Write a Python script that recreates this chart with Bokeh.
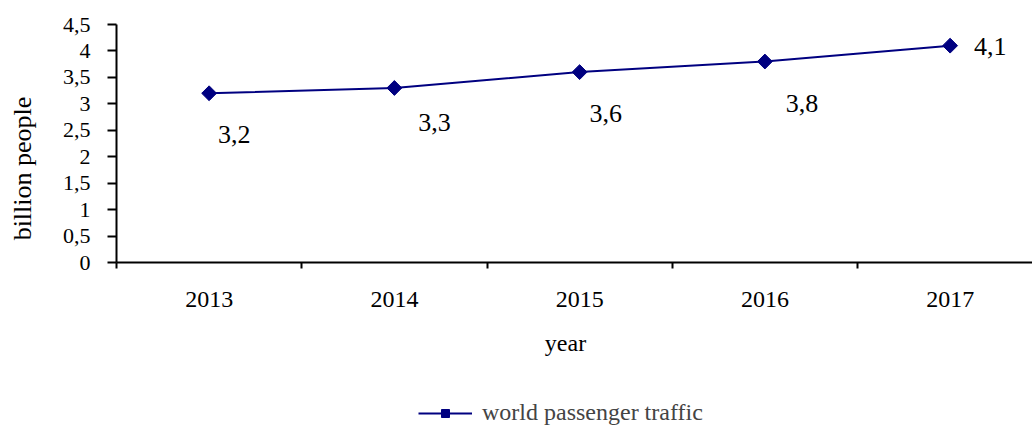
import math
from bokeh.plotting import figure
from bokeh.models import (Range1d, FixedTicker, Legend, LegendItem, Label,
                          ColumnDataSource)
from bokeh.embed import file_html
from bokeh.resources import INLINE

# ---- data ----
years = [2013, 2014, 2015, 2016, 2017]
passengers = [3.2, 3.3, 3.6, 3.8, 4.1]
value_labels = ["3,2", "3,3", "3,6", "3,8", "4,1"]
y_ticks = [0, 0.5, 1, 1.5, 2, 2.5, 3, 3.5, 4, 4.5]
y_tick_labels = ["0", "0,5", "1", "1,5", "2", "2,5", "3", "3,5", "4", "4,5"]
series_name = "world passenger traffic"
x_title = "year"
y_title = "billion people"

# ---- layout constants (pixels) ----
W, H = 1032, 426
AX_X, AX_Y = 116, 262          # pixel position of the axes' origin
PLOT_TOP = 24                  # pixel position of y = y_max
PX_X = 185.25                  # pixels per year
y_max = 4.5
PX_Y = (AX_Y - PLOT_TOP) / y_max

x0 = years[0] - 0.5
x_start = x0 - AX_X / PX_X
x_end = x_start + W / PX_X
y_end = y_max + PLOT_TOP / PX_Y
y_start = y_end - H / PX_Y


def px_x(px):
    return x_start + px / PX_X


def px_y(py):
    return y_end - py / PX_Y


FONT = "Liberation Serif"
NAVY = "#000080"

p = figure(width=W, height=H, output_backend="svg", toolbar_location=None,
           x_range=Range1d(x_start, x_end), y_range=Range1d(y_start, y_end),
           min_border=0, min_border_left=0, min_border_right=0,
           min_border_top=0, min_border_bottom=0)
p.outline_line_color = None
p.grid.visible = False
p.background_fill_color = "white"
p.border_fill_color = "white"

# x axis (drawn at y = 0)
xa = p.xaxis[0]
xa.fixed_location = 0
xa.bounds = (x0, x_end)
xa.ticker = FixedTicker(ticks=years,
                        minor_ticks=[y - 0.5 for y in years] + [years[-1] + 0.5])
xa.major_tick_line_color = None
xa.major_tick_out = 6
xa.major_tick_in = 0
xa.minor_tick_out = 6
xa.minor_tick_in = 0
xa.minor_tick_line_color = "black"
xa.minor_tick_line_width = 2
xa.axis_line_width = 2
xa.axis_line_color = "black"
xa.major_label_text_font = FONT
xa.major_label_text_font_size = "24px"
xa.major_label_text_color = "black"
xa.major_label_standoff = 23

# y axis (drawn at the left edge of the first category)
ya = p.yaxis[0]
ya.fixed_location = x0
ya.bounds = (0, y_max)
ya.ticker = FixedTicker(ticks=y_ticks, minor_ticks=[])
ya.major_label_overrides = dict(zip(y_ticks, y_tick_labels))
ya.major_tick_out = 9
ya.major_tick_in = 0
ya.major_tick_line_width = 2
ya.major_tick_line_color = "black"
ya.axis_line_width = 2
ya.axis_line_color = "black"
ya.major_label_text_font = FONT
ya.major_label_text_font_size = "22px"
ya.major_label_text_color = "black"
ya.major_label_standoff = 17

# series
src = ColumnDataSource(dict(
    x=years, y=passengers, lab=value_labels,
    dx=[25, 40, 26, 37, 40], dy=[41, 35, 41, 42, 1],
))
line = p.line("x", "y", source=src, line_color=NAVY, line_width=2)
marks = p.scatter("x", "y", source=src, marker="square", angle=math.pi / 4,
                  size=10.5, fill_color=NAVY, line_color=NAVY)
p.text("x", "y", text="lab", source=src, x_offset="dx", y_offset="dy",
       text_font="Liberation Serif", text_font_size="26px", text_color="black",
       text_align="center", text_baseline="middle")

# axis titles
p.add_layout(Label(x=px_x(565), y=px_y(342), text=x_title,
                   text_font=FONT, text_font_size="24px", text_color="black",
                   text_align="center", text_baseline="middle"))
p.add_layout(Label(x=px_x(22), y=px_y(168), text=y_title, angle=math.pi / 2,
                   text_font=FONT, text_font_size="26px", text_color="black",
                   text_align="center", text_baseline="middle"))

legend = Legend(items=[LegendItem(label=series_name, renderers=[line, marks])],
                location=(418, 0), orientation="horizontal",
                glyph_width=54, glyph_height=20, label_standoff=10,
                border_line_color=None, background_fill_alpha=0,
                label_text_font=FONT, label_text_font_size="24px",
                padding=0, margin=0, spacing=0)
p.add_layout(legend, "center")

open("out.html", "w").write(file_html(p, INLINE))
